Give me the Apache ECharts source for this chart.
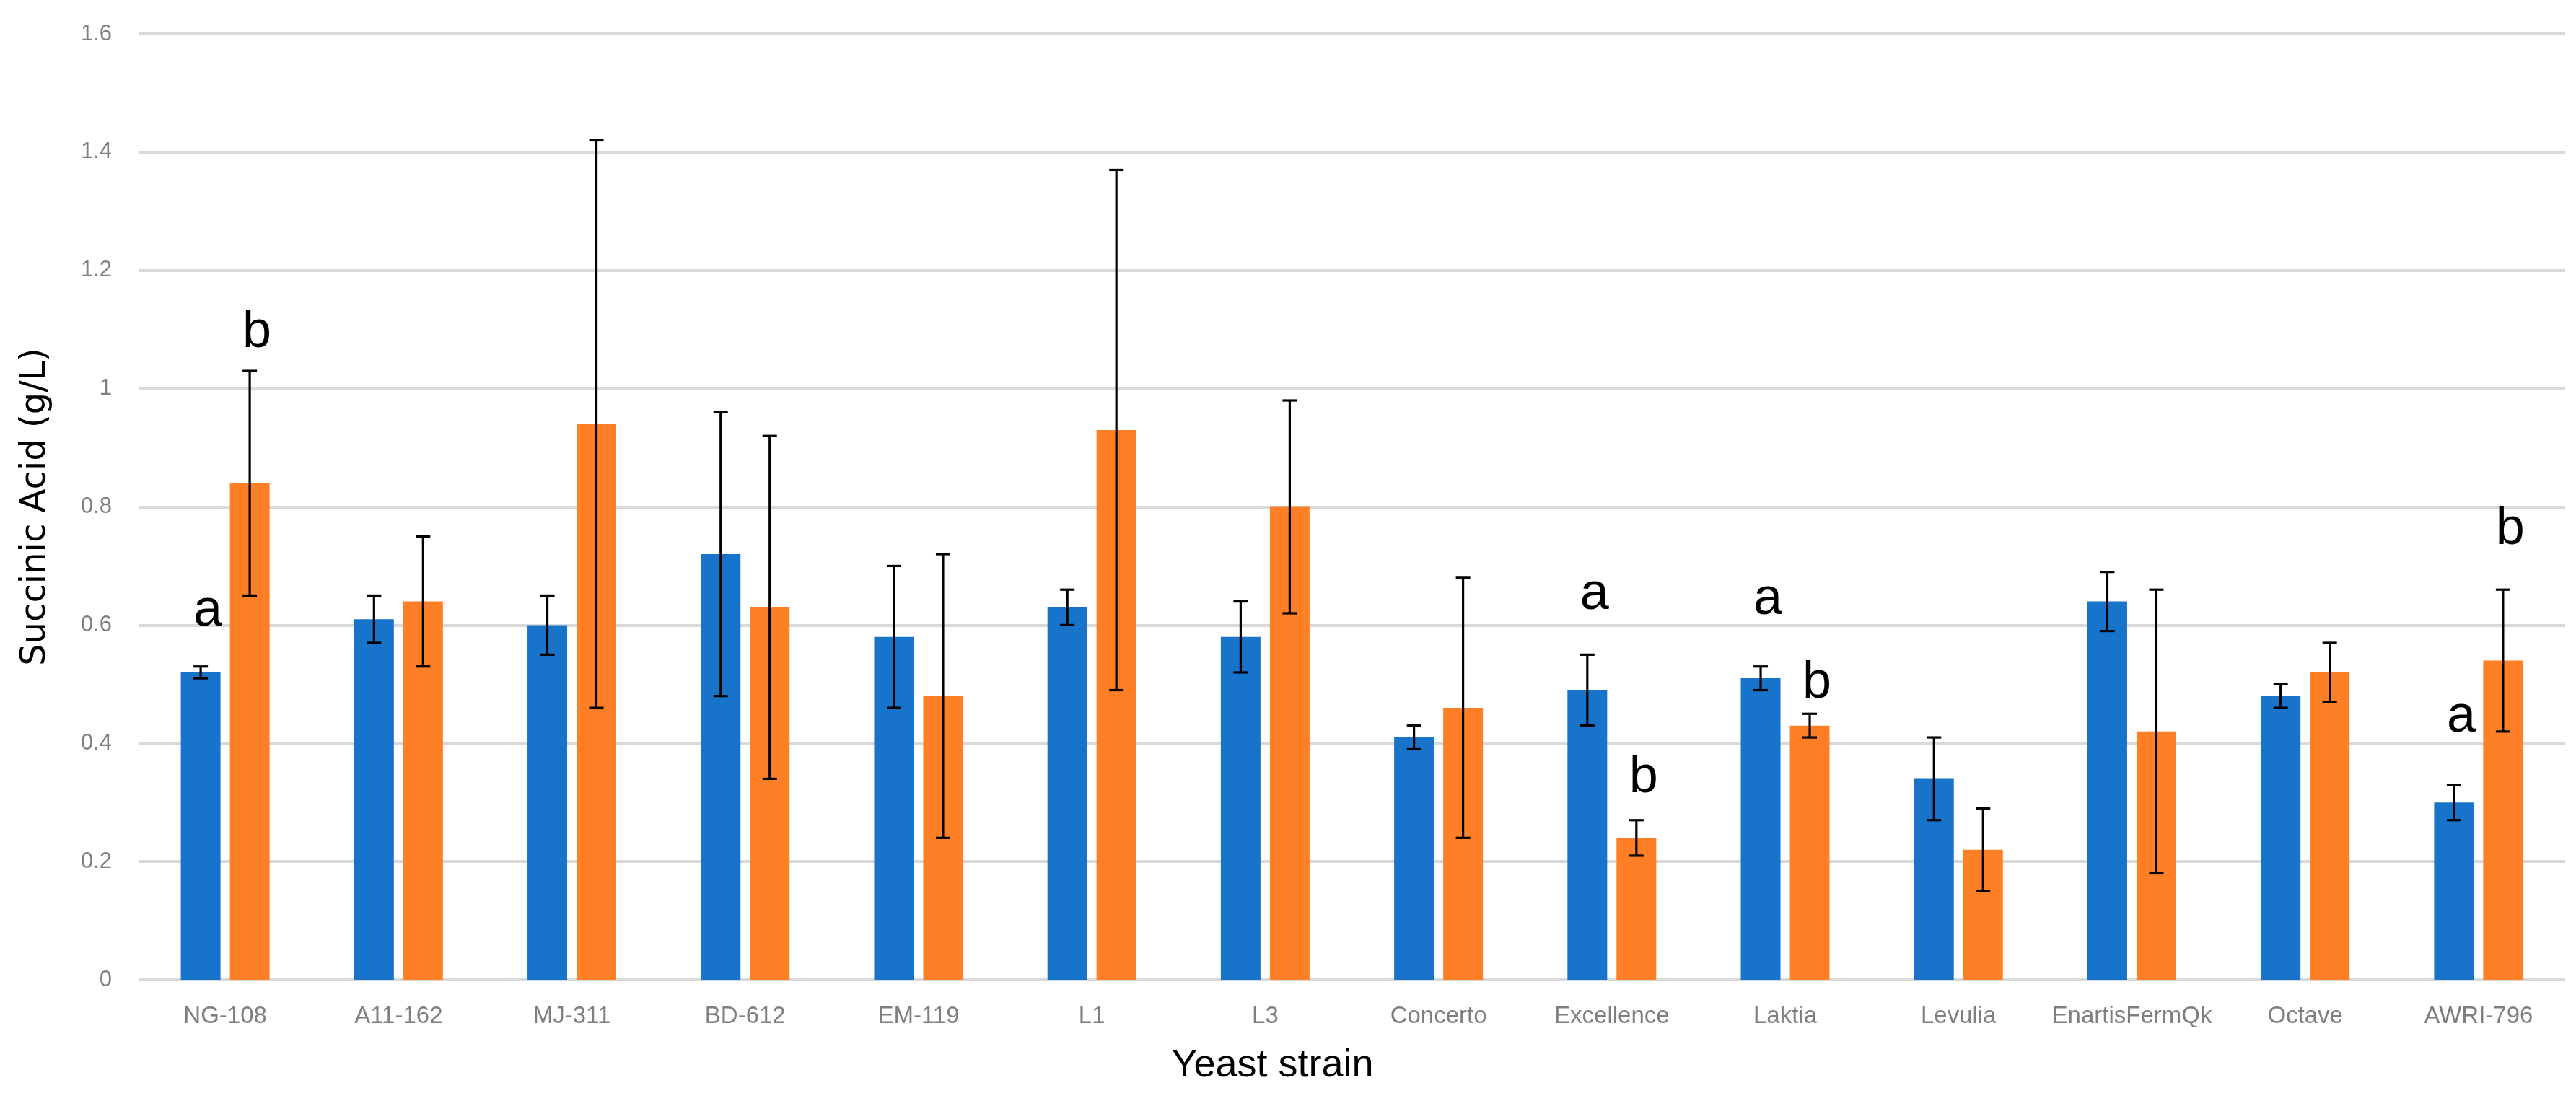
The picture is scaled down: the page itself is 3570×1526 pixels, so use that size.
<!DOCTYPE html>
<html>
<head>
<meta charset="utf-8">
<script src="https://cdn.jsdelivr.net/npm/echarts@6/dist/echarts.min.js"></script>
<style>
html,body{margin:0;padding:0;background:#fff;}
#chart{width:3570px;height:1526px;}
</style>
</head>
<body>
<div id="chart"></div>
<script>
// ---- data ----
const strains = ['NG-108','A11-162','MJ-311','BD-612','EM-119','L1','L3','Concerto','Excellence','Laktia','Levulia','EnartisFermQk','Octave','AWRI-796'];
const seriesA = [0.52,0.61,0.60,0.72,0.58,0.63,0.58,0.41,0.49,0.51,0.34,0.64,0.48,0.30];
const seriesAErr = [0.01,0.04,0.05,0.24,0.12,0.03,0.06,0.02,0.06,0.02,0.07,0.05,0.02,0.03];
const seriesB = [0.84,0.64,0.94,0.63,0.48,0.93,0.80,0.46,0.24,0.43,0.22,0.42,0.52,0.54];
const seriesBErr = [0.19,0.11,0.48,0.29,0.24,0.44,0.18,0.22,0.03,0.02,0.07,0.24,0.05,0.12];
// significance letters: [strain, series (0 = blue, 1 = orange), letter, baseline value]
const letters = [
  ['NG-108',0,'a',0.592],
  ['NG-108',1,'b',1.063],
  ['Excellence',0,'a',0.620],
  ['Excellence',1,'b',0.310],
  ['Laktia',0,'a',0.611],
  ['Laktia',1,'b',0.470],
  ['AWRI-796',0,'a',0.412],
  ['AWRI-796',1,'b',0.730]
];
const yTicks = {min:0, max:1.6, interval:0.2};

// ---- styling constants ----
const BAR_FRAC = 0.229;   // bar width as fraction of category band
const GAP_FRAC = 0.236;   // gap between the two bars as fraction of bar width
const COLORS = ['#1874cb','#ff7f27'];

function barOffset(api, s){
  const band = api.size([1,0])[0];
  const bw = band*BAR_FRAC;
  const gap = bw*GAP_FRAC;
  return (s===0?-1:1)*(bw+gap)/2;
}

const errData = [];
seriesA.forEach((v,i)=>errData.push([i, v-seriesAErr[i], v+seriesAErr[i], 0]));
seriesB.forEach((v,i)=>errData.push([i, v-seriesBErr[i], v+seriesBErr[i], 1]));

const letterData = letters.map(l=>[strains.indexOf(l[0]), l[3], l[1], l[2]]);

const chart = echarts.init(document.getElementById('chart'), null, {renderer:'canvas'});
chart.setOption({
  animation:false,
  backgroundColor:'#ffffff',
  grid:{left:192, right:15, top:47, bottom:168, containLabel:false},
  xAxis:{
    type:'category',
    data:strains,
    axisTick:{show:false},
    axisLine:{show:false},
    axisLabel:{color:'#7f7f7f', fontSize:33, fontFamily:'Liberation Sans', margin:34, interval:0},
    name:'Yeast strain',
    nameLocation:'middle',
    nameGap:92,
    nameTextStyle:{color:'#000', fontSize:54, fontFamily:'Liberation Sans', padding:[0,220,0,0]}
  },
  yAxis:{
    type:'value',
    min:yTicks.min, max:yTicks.max, interval:yTicks.interval,
    axisLine:{show:false},
    axisTick:{show:false},
    splitLine:{lineStyle:{color:'#d9d9d9', width:4}},
    axisLabel:{color:'#7f7f7f', fontSize:31, fontFamily:'Liberation Sans', margin:37},
    name:'Succinic Acid (g/L)',
    nameLocation:'middle',
    nameRotate:90,
    nameGap:118,
    nameTextStyle:{color:'#000', fontSize:48, fontFamily:'DejaVu Sans'}
  },
  series:[
    {name:'Series 1', type:'bar', data:seriesA, barWidth:(BAR_FRAC*100)+'%', barGap:(GAP_FRAC*100)+'%', itemStyle:{color:COLORS[0]}, z:2},
    {name:'Series 2', type:'bar', data:seriesB, barWidth:(BAR_FRAC*100)+'%', barGap:(GAP_FRAC*100)+'%', itemStyle:{color:COLORS[1]}, z:2},
    {
      type:'custom',
      name:'error',
      data:errData,
      z:5,
      encode:{x:0, y:[1,2]},
      renderItem:function(params, api){
        const cat = api.value(0), lo = api.value(1), hi = api.value(2), s = api.value(3);
        const off = barOffset(api, s);
        const pHi = api.coord([cat, hi]);
        const pLo = api.coord([cat, lo]);
        const x = pHi[0] + off;
        const cap = 10;
        const st = {stroke:'#000', lineWidth:3.2};
        return {type:'group', children:[
          {type:'line', shape:{x1:x, y1:pHi[1], x2:x, y2:pLo[1]}, style:st},
          {type:'line', shape:{x1:x-cap, y1:pHi[1], x2:x+cap, y2:pHi[1]}, style:st},
          {type:'line', shape:{x1:x-cap, y1:pLo[1], x2:x+cap, y2:pLo[1]}, style:st}
        ]};
      }
    },
    {
      type:'custom',
      name:'letters',
      data:letterData,
      z:6,
      encode:{x:0, y:1},
      renderItem:function(params, api){
        const cat = api.value(0), val = api.value(1), s = api.value(2);
        const txt = letterData[params.dataIndex][3];
        const off = barOffset(api, s);
        const p = api.coord([cat, val]);
        const fs = 72;
        return {type:'text', style:{
          text:txt, x:p[0]+off+10, y:p[1]-fs*0.36,
          fill:'#000', fontSize:fs, fontFamily:'Liberation Sans',
          align:'center', verticalAlign:'middle'
        }};
      }
    }
  ]
});
</script>
</body>
</html>
